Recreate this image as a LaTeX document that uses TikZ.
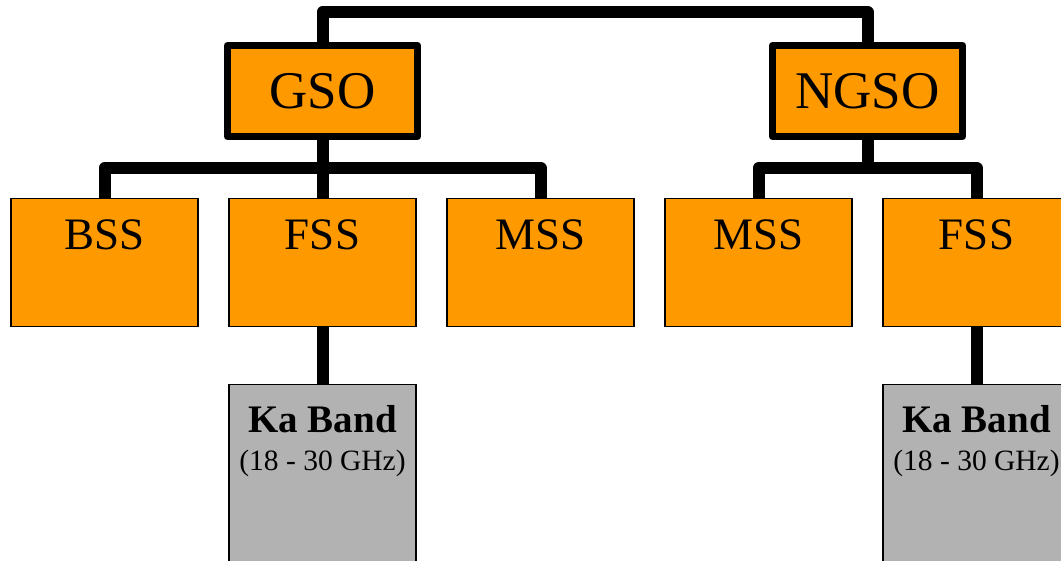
\documentclass[tikz,border=0pt]{standalone}
\usepackage{fontspec}
\setmainfont{Liberation Serif}
\definecolor{satorange}{HTML}{FF9900}
\definecolor{bandgray}{HTML}{B2B2B2}

\begin{document}
\begin{tikzpicture}[x=1pt,y=1pt,
		orbit/.style={draw,line width=7pt,line join=round,fill=satorange,minimum width=190pt,minimum height=91pt,inner sep=0pt,font=\fontsize{53}{60}\selectfont},
		service/.style={draw,line width=1.5pt,fill=satorange,anchor=north,minimum width=187pt,inner sep=0pt,text height=51pt,text depth=77pt,font=\fontsize{45}{50}\selectfont},
		band/.style={draw,line width=1.5pt,fill=bandgray,anchor=north,minimum width=187pt,inner sep=0pt,align=center,text height=86pt,text depth=150pt,font=\fontsize{29.5}{38}\selectfont},
		link/.style={line width=12pt,line join=round}]
				\path[use as bounding box] (0,0) rectangle (1061,560);
				\clip (0,0) rectangle (1061,560);
				\def\rowy{362};
				\def\bandy{176};
				% orbit classes
				\node[orbit] (gso) at (322.5,469) {GSO};
				\node[orbit] (ngso) at (867.5,469) {NGSO};
				% services
				\node[service] (bss) at (104.5,\rowy) {BSS};
				\node[service] (gfss) at (322.5,\rowy) {FSS};
				\node[service] (gmss) at (540.5,\rowy) {MSS};
				\node[service] (nmss) at (758.5,\rowy) {MSS};
				\node[service] (nfss) at (976.5,\rowy) {FSS};
				% frequency bands
				\node[band] (gka) at (322.5,\bandy) {{\bfseries\fontsize{39}{38}\selectfont Ka Band}\\(18 - 30 GHz)};
				\node[band] (nka) at (976.5,\bandy) {{\bfseries\fontsize{39}{38}\selectfont Ka Band}\\(18 - 30 GHz)};
				\coordinate (topbar) at (322.5,548);
				\coordinate (gbar) at (322.5,392);
				\coordinate (nbar) at (867.5,392);
				\draw[link] (gso.north) |- (topbar) -| (ngso.north);
				\draw[link] (bss.north) |- (gbar) -| (gmss.north);
				\draw[link] (gso.south) -- (gfss.north);
				\draw[link] (nmss.north) |- (nbar) -| (nfss.north);
				\draw[link] (ngso.south) -- (nbar);
				\draw[link] (gfss.south) -- (gka.north);
				\draw[link] (nfss.south) -- (nka.north);
			\end{tikzpicture}
\end{document}
